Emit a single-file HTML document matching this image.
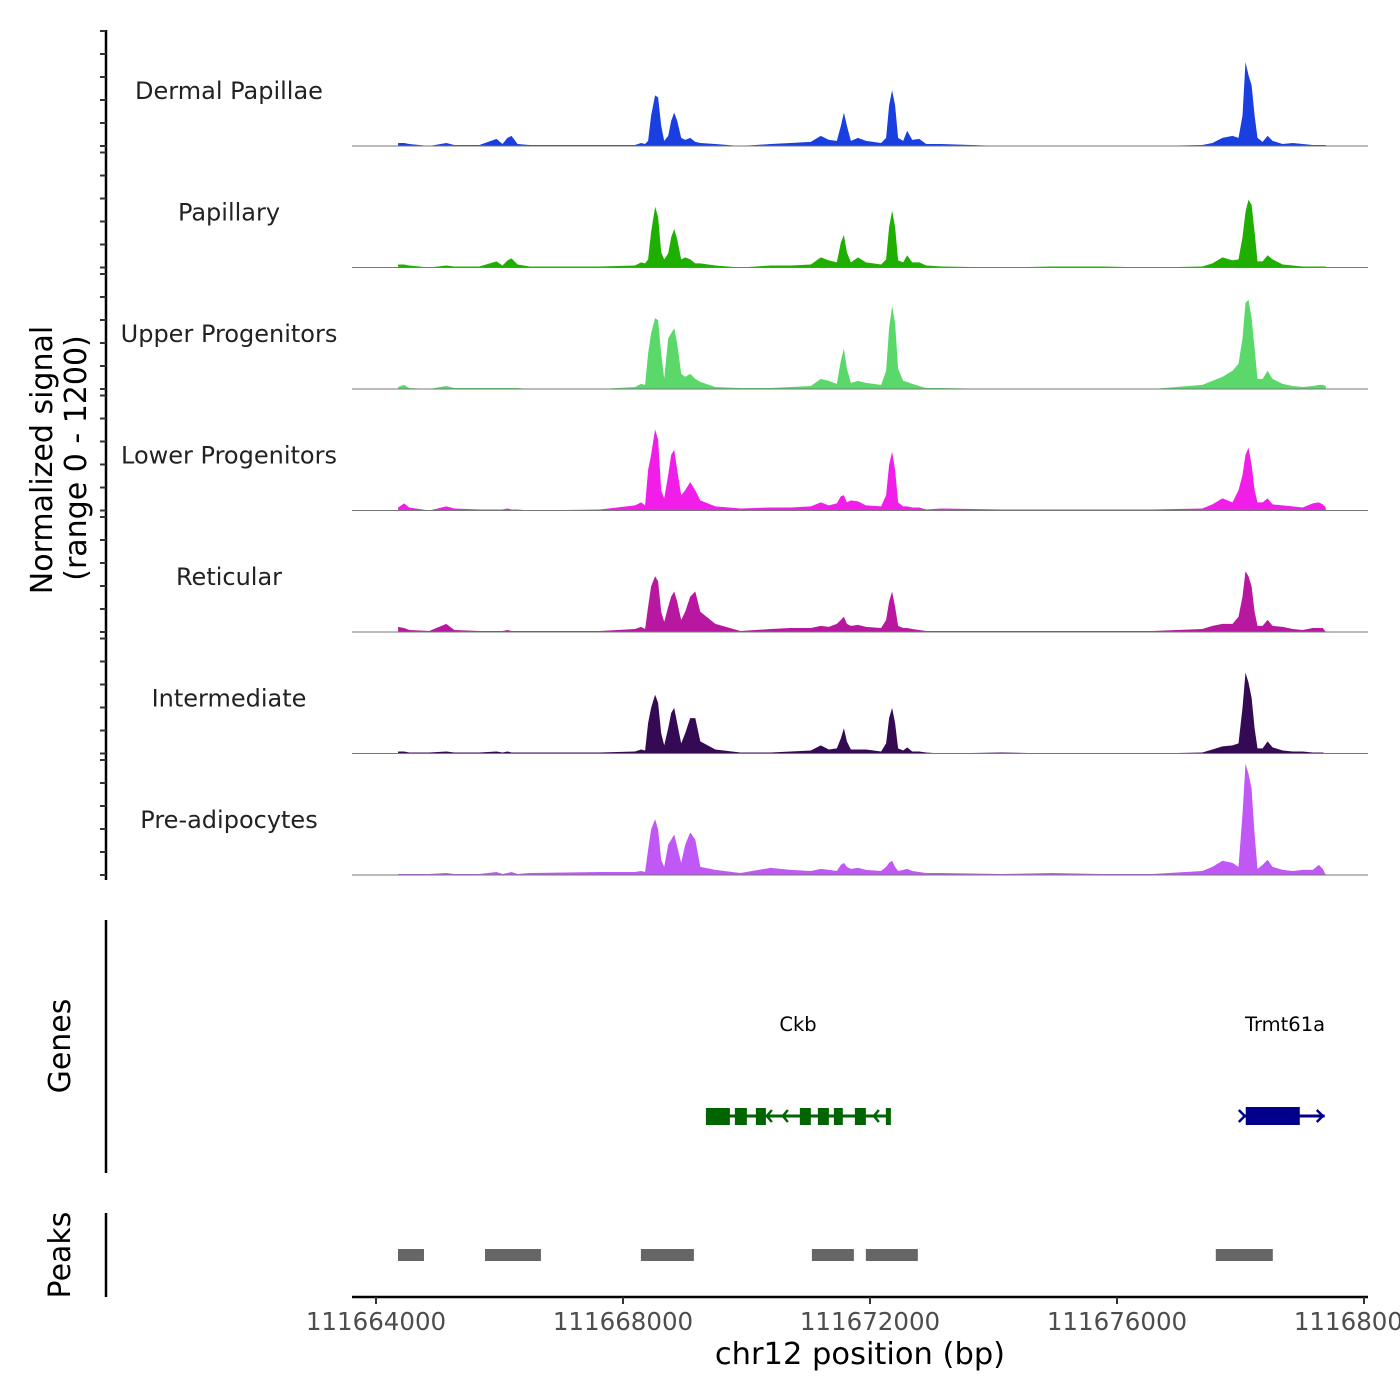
<!DOCTYPE html>
<html><head><meta charset="utf-8">
<style>
html,body{margin:0;padding:0;background:#fff;}
svg{display:block;font-family:"DejaVu Sans","Liberation Sans",sans-serif;}
</style></head>
<body>
<svg id="chart" width="1400" height="1400" viewBox="0 0 1400 1400" xmlns="http://www.w3.org/2000/svg">
<g id="tracks"></g>
<g id="axes"></g>
<g id="genes"></g>
<g id="peaks"></g>
<text transform="translate(52,460) rotate(-90)" text-anchor="middle" font-size="30" fill="#000">Normalized signal</text>
<text transform="translate(86,458) rotate(-90)" text-anchor="middle" font-size="30" fill="#000">(range 0 - 1200)</text>
<text transform="translate(70,1046) rotate(-90)" text-anchor="middle" font-size="30" fill="#000">Genes</text>
<text transform="translate(70,1255) rotate(-90)" text-anchor="middle" font-size="30" fill="#000">Peaks</text>
<text x="860" y="1364" text-anchor="middle" font-size="30.5" fill="#000">chr12 position (bp)</text>
</svg>
<script>
const START = 111664000;
const categories = ["Dermal Papillae","Papillary","Upper Progenitors","Lower Progenitors","Reticular","Intermediate","Pre-adipocytes"];
const colors = ["#1a3fe0","#1faf00","#5ad96a","#f01ee8","#b8179f","#350a55","#c058f5"];
const offsets = [358,455,537,862,1138,1268,1675,1951,2049,2130,2195,2293,2488,3626,4195,4293,4358,4406,4455,4520,4569,4618,4667,4732,4780,4829,4878,4943,5008,5089,5171,5252,5496,5902,6390,6715,7041,7203,7333,7463,7528,7577,7626,7691,7805,7935,8179,8260,8309,8358,8406,8455,8537,8602,8683,8797,8910,9154,10130,10943,11756,12569,13382,13545,13707,13870,13967,14032,14081,14130,14179,14228,14276,14358,14439,14520,14683,14845,15008,15171,15268,15333,15382];
const positions = offsets.map(o => START + o);
const sigDP = [3,3,2,0,3,1,1,7,2,8,10,2,1,1,1,3,2,5,30,50,48,20,5,10,25,33,25,8,6,8,4,3,2,0,2,3,4,10,6,5,20,33,20,5,8,5,3,8,40,55,40,8,5,15,6,7,2,2,0,0,0,0,1,3,8,10,8,30,83,70,60,30,8,4,10,5,2,3,2,1,1,1,1];
const sigPap = [3,3,2,0,2,1,1,6,2,7,9,3,1,1,2,5,4,8,35,60,50,15,8,14,30,38,28,8,10,8,4,4,2,0,2,2,3,10,7,5,25,32,15,5,10,5,3,8,40,56,40,7,5,12,5,5,2,1,0,1,1,0,1,4,10,7,8,30,55,67,62,35,6,6,12,8,3,2,1,1,1,1,1];
const sigUp = [2,4,1,0,3,1,1,1,1,1,1,1,0,0,2,5,4,35,55,70,68,35,10,50,55,60,45,15,12,15,10,7,2,1,1,2,3,10,8,5,28,40,20,6,8,6,4,18,60,82,65,20,8,7,5,3,1,1,0,0,0,0,4,8,12,18,25,50,85,88,70,40,10,10,18,10,5,3,2,3,4,4,3];
const sigLow = [3,7,3,0,4,2,1,1,1,2,1,1,0,1,5,8,5,40,55,80,70,20,12,35,55,60,40,15,20,28,20,10,4,2,3,3,4,8,5,7,14,15,8,10,9,5,4,15,45,58,40,8,4,4,3,3,1,2,1,1,1,1,2,6,12,8,20,35,55,62,45,20,8,8,12,6,5,4,3,7,8,6,3];
const sigRet = [5,4,2,1,8,2,1,1,1,2,1,1,1,1,3,5,3,25,45,55,50,20,10,25,35,40,30,12,20,35,40,20,8,1,3,4,4,6,5,8,12,15,8,6,7,5,4,12,30,40,25,6,4,4,3,2,1,1,1,1,1,1,3,6,8,8,15,35,60,55,45,20,6,6,12,6,5,3,2,4,4,4,0];
const sigInt = [2,2,1,1,2,1,1,2,1,2,1,1,1,1,2,4,3,30,45,58,50,20,8,25,40,45,30,10,20,35,35,12,4,1,1,2,3,8,4,5,15,25,12,4,4,4,2,10,35,45,30,5,3,6,2,2,1,0,1,0,0,0,1,4,7,8,10,45,80,70,55,25,5,5,12,6,3,2,2,1,1,1,0];
const sigPre = [1,1,1,1,2,1,1,3,1,2,3,1,2,3,3,4,3,25,45,55,45,15,8,30,35,40,28,12,30,42,35,8,5,2,7,5,4,6,5,4,10,12,8,6,7,5,4,8,12,14,8,4,5,6,4,3,2,2,1,2,1,1,4,8,14,12,8,60,110,100,85,40,6,10,15,8,5,4,5,5,10,6,0];
const series = [sigDP,sigPap,sigUp,sigLow,sigRet,sigInt,sigPre];
const xTicks = [111664000,111668000,111672000,111676000,111680000];
const xTickLabels = ["111664000","111668000","111672000","111676000","111680000"];
const peakStarts = [356,1765,4290,7059,7933,13600].map(o=>START+o);
const peakEnds = [777,2671,5148,7739,8775,14523].map(o=>START+o);
const ckbExonStart = [5343,5812,6152,6864,7156,7415,7755,8257].map(o=>START+o);
const ckbExonEnd = [5731,6006,6314,7042,7334,7560,7933,8338].map(o=>START+o);
const ckbArrows = [6330,6589,7237,8063].map(o=>START+o);
const trmExonStart = [14085].map(o=>START+o);
const trmExonEnd = [14960].map(o=>START+o);

const NS="http://www.w3.org/2000/svg";
const xs = bp => 376 + (bp - START) * 0.06175;
const baseY = k => 146 + 121.5 * k;
const ys = (k, v) => baseY(k) - v / 120 * 121.5;
function mk(tag, attrs, parent){const e=document.createElementNS(NS,tag);for(const a in attrs)e.setAttribute(a,attrs[a]);parent.appendChild(e);return e;}

const gT=document.getElementById('tracks');
series.forEach((vals,k)=>{
  let d=`M${xs(positions[0]).toFixed(1)},${baseY(k)}`;
  vals.forEach((v,i)=>{d+=` L${xs(positions[i]).toFixed(1)},${ys(k,v).toFixed(1)}`;});
  d+=` L${xs(positions[positions.length-1]).toFixed(1)},${baseY(k)} Z`;
  const p=mk('path',{d:d,fill:colors[k]},gT);
  
  
  const l=mk('line',{x1:352,x2:1368,y1:baseY(k),y2:baseY(k),stroke:'#777','stroke-width':1},gT);
  
  
  const t=mk('text',{x:229,y:baseY(k)-47,'text-anchor':'middle','font-size':24,fill:'#222'},gT);
  t.textContent=categories[k];
  
  
});

const gA=document.getElementById('axes');
const ax=mk('line',{x1:106,x2:106,y1:30,y2:880,stroke:'#000','stroke-width':2.5},gA);


for(let k=0;k<7;k++){for(let j=0;j<6;j++){const y=baseY(k)-23*j;
  const tk=mk('line',{x1:100,x2:106,y1:y,y2:y,stroke:'#333','stroke-width':2},gA);
  
  }}
const ga=mk('line',{x1:106,x2:106,y1:920,y2:1173,stroke:'#000','stroke-width':2.5},gA);


const pa=mk('line',{x1:106,x2:106,y1:1213,y2:1297,stroke:'#000','stroke-width':2.5},gA);


const xa=mk('line',{x1:352,x2:1368,y1:1297,y2:1297,stroke:'#000','stroke-width':2.5},gA);


xTicks.forEach((b,i)=>{
  const x=xs(b);
  const tk=mk('line',{x1:x,x2:x,y1:1297,y2:1304,stroke:'#333','stroke-width':2},gA);
  
  
  const t=mk('text',{x:x,y:1330,'text-anchor':'middle','font-size':24.5,fill:'#4d4d4d'},gA);
  t.textContent=xTickLabels[i];
  
  
});

const gG=document.getElementById('genes');
const gc='#006400', tc='#00008b';
const cl=mk('line',{x1:xs(START+5343),x2:xs(START+8322),y1:1116,y2:1116,stroke:gc,'stroke-width':3},gG);


ckbExonStart.forEach((s,i)=>{
  const r=mk('rect',{x:xs(s),y:1108,width:xs(ckbExonEnd[i])-xs(s),height:17,fill:gc},gG);
  
  
});
ckbArrows.forEach(b=>{const x=xs(b);
  const a=mk('path',{d:`M${x+5},${1110} L${x},${1116} L${x+5},${1122}`,fill:'none',stroke:gc,'stroke-width':2.5},gG);
  
  });
const tl=mk('line',{x1:xs(START+14037),x2:xs(START+15364),y1:1116,y2:1116,stroke:tc,'stroke-width':3},gG);


trmExonStart.forEach((s,i)=>{
  const r=mk('rect',{x:xs(s),y:1107,width:xs(trmExonEnd[i])-xs(s),height:18,fill:tc},gG);
  
  
});
[14037,15300].forEach(o=>{const x=xs(START+o);
  const a=mk('path',{d:`M${x-4},${1110} L${x+2},${1116} L${x-4},${1122}`,fill:'none',stroke:tc,'stroke-width':2.5},gG);
  
  });
const t1=mk('text',{x:798,y:1031,'text-anchor':'middle','font-size':19.5,fill:'#000'},gG);
t1.textContent='Ckb';


const t2=mk('text',{x:1285,y:1031,'text-anchor':'middle','font-size':19.5,fill:'#000'},gG);
t2.textContent='Trmt61a';



const gP=document.getElementById('peaks');
peakStarts.forEach((s,i)=>{
  const r=mk('rect',{x:xs(s),y:1249,width:xs(peakEnds[i])-xs(s),height:12,fill:'#666'},gP);
  
  
});
</script>
</body></html>
